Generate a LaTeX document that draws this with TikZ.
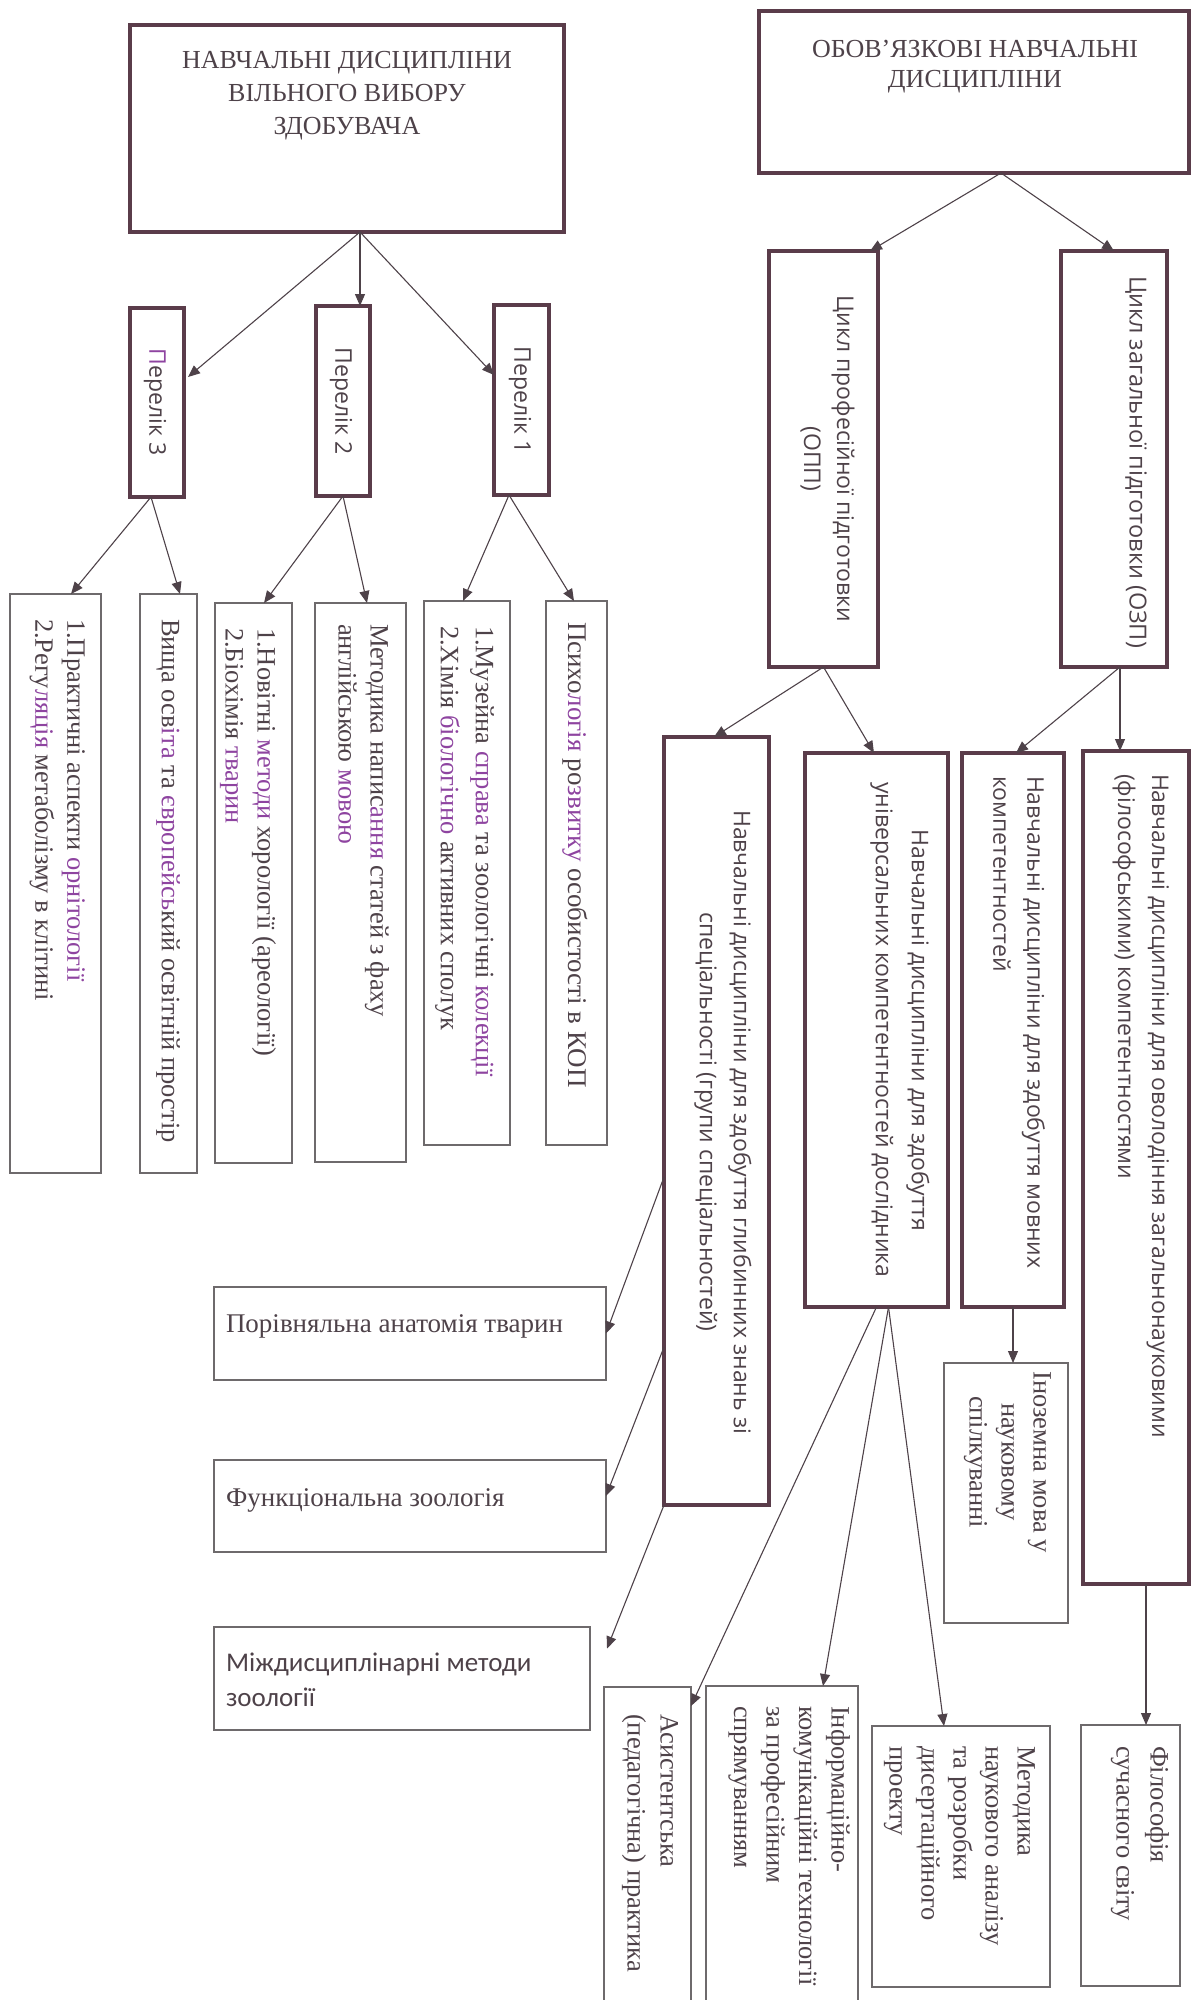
\documentclass[tikz,border=0pt]{standalone}
\usepackage{fontspec}
\setmainfont{Liberation Serif}
\newfontfamily\sansf{Open Sans}
\newfontfamily\calf{Carlito}
\usetikzlibrary{arrows.meta}
\definecolor{framec}{HTML}{5A3C4A}
\definecolor{thinc}{HTML}{6E6A6C}
\definecolor{inkc}{HTML}{4E4249}
\definecolor{lilac}{HTML}{8E44A0}
\newcommand{\purp}[1]{\textcolor{lilac}{#1}}

\begin{document}
\begin{tikzpicture}[x=1pt,y=-1pt]
\tikzstyle{every node}+=[inner sep=0pt,outer sep=0pt,text=inkc]
\tikzstyle{heavy}=[draw=framec,line width=3.5pt]
\tikzstyle{light}=[draw=thinc,line width=1.4pt]
\tikzstyle{link}=[draw=inkc,line width=1.1pt,-{Triangle[length=12pt,width=10pt]}]
\tikzstyle{txtserif}=[font=\fontsize{26.5}{32}\selectfont]
\tikzstyle{txtsans}=[font=\sansf\fontsize{23}{34}\selectfont]
\tikzstyle{down}=[rotate=-90,anchor=north west,align=left]
\tikzstyle{downc}=[rotate=-90,align=center]
\useasboundingbox (0,0) rectangle (1193,2000);

\node[heavy,minimum width=434pt,minimum height=207pt] (vyb) at (347,128.5) {};
\node[font=\fontsize{26}{33}\selectfont,align=center] (vybt) at (347,96) {НАВЧАЛЬНІ ДИСЦИПЛІНИ\\ВІЛЬНОГО ВИБОРУ\\ЗДОБУВАЧА};
\node[heavy,minimum width=430pt,minimum height=162pt] (obov) at (974,92) {};
\node[font=\fontsize{26}{30}\selectfont,align=center] (obovt) at (975,67) {ОБОВ'ЯЗКОВІ НАВЧАЛЬНІ\\ДИСЦИПЛІНИ};

\node[heavy,minimum width=54pt,minimum height=189pt] (p3) at (157,402.5) {};
\node[txtsans,downc] (p3t) at (155,402) {\purp{П}ерелік 3};
\node[heavy,minimum width=54pt,minimum height=190pt] (p2) at (343,401) {};
\node[txtsans,downc] (p2t) at (341,401) {Перелік 2};
\node[heavy,minimum width=55pt,minimum height=190pt] (p1) at (521.5,400) {};
\node[txtsans,downc] (p1t) at (520,400) {Перелік 1};

\node[light,minimum width=91pt,minimum height=579pt] (c3a) at (55.5,883.5) {};
\node[txtserif,down] (c3at) at (85,619) {1.Практичні аспекти \purp{орнітології}\\2.Регу\purp{ляція} метаболізму в клітині};
\node[light,minimum width=57pt,minimum height=579pt] (c3b) at (168.5,883.5) {};
\node[txtserif,down] (c3bt) at (180,619) {Вища осв\purp{іта} та \purp{європейсь}кий освітній простір};
\node[light,minimum width=77pt,minimum height=560pt] (c2a) at (253.5,883) {};
\node[txtserif,down] (c2at) at (276,628) {1.Новітні \purp{методи} хорології (ареології)\\2.Біохімія \purp{тварин}};
\node[light,minimum width=91pt,minimum height=559pt] (c2b) at (360.5,882.5) {};
\node[txtserif,down] (c2bt) at (389,624) {Методика напис\purp{ання} статей з фаху\\англійською \purp{мовою}};
\node[light,minimum width=86pt,minimum height=544pt] (c1a) at (467,873) {};
\node[txtserif,down,font=\fontsize{26.5}{35}\selectfont] (c1at) at (494,626) {1.Музейна \purp{справа} та зоологічні \purp{колекції}\\2.Хімія \purp{біологічно} активних сполук};
\node[light,minimum width=61pt,minimum height=544pt] (c1b) at (576.5,873) {};
\node[txtserif,down,font=\fontsize{27}{32}\selectfont] (c1bt) at (588,622) {Психо\purp{логія} ро\purp{звитку} особистості в КОП};

\draw[link] ([xshift=13pt]vyb.south) -- ([xshift=4pt,yshift=-69pt]p3.north east);
\draw[link] ([xshift=13pt]vyb.south) -- ([xshift=17pt]p2.north);
\draw[link] ([xshift=13pt]vyb.south) -- ([yshift=-70pt]p1.north west);
\draw[link] ([xshift=-6pt]p3.south) -- ([xshift=15.5pt]c3a.north);
\draw[link] ([xshift=-6pt]p3.south) -- ([xshift=11.5pt]c3b.north);
\draw[link] (p2.south) -- ([xshift=10.5pt]c2a.north);
\draw[link] (p2.south) -- ([xshift=6.5pt]c2b.north);
\draw[link] ([xshift=-12.5pt]p1.south) -- ([xshift=-4pt]c1a.north);
\draw[link] ([xshift=-12.5pt]p1.south) -- ([xshift=-2.5pt]c1b.north);

\node[heavy,minimum width=109pt,minimum height=416pt] (opp) at (823.5,459) {};
\node[txtsans,downc,font=\sansf\fontsize{23}{33}\selectfont] (oppt) at (827.5,459) {Цикл професійної підготовки\\(ОПП)};
\node[heavy,minimum width=106pt,minimum height=416pt] (ozp) at (1114,459) {};
\node[txtsans,downc,font=\sansf\fontsize{23.5}{34}\selectfont] (ozpt) at (1136,462) {Цикл загальної підготовки (ОЗП)};

\draw[link] ([xshift=27pt]obov.south) -- ([xshift=46.5pt]opp.north);
\draw[link] ([xshift=27pt]obov.south) -- (ozp.north);

\node[heavy,minimum width=105pt,minimum height=768pt] (deep) at (716.5,1121) {};
\node[txtsans,downc] (deept) at (723,1122) {Навчальні дисципліни для здобуття глибинних знань зі\\спеціальності (групи спеціальностей)};
\node[heavy,minimum width=143pt,minimum height=554pt] (univ) at (876.5,1030) {};
\node[txtsans,downc,font=\sansf\fontsize{23}{36}\selectfont] (univt) at (900,1030) {Навчальні дисципліни для здобуття\\універсальних компетентностей дослідника};
\node[heavy,minimum width=102pt,minimum height=554pt] (movn) at (1013,1030) {};
\node[txtsans,down] (movnt) at (1045,776) {Навчальні дисципліни для здобуття мовних\\компетентностей};
\node[heavy,minimum width=106pt,minimum height=833pt] (ovol) at (1136,1167.5) {};
\node[txtsans,down] (ovolt) at (1169,774) {Навчальні дисципліни для оволодіння загальнонауковими\\(філософськими) компетентностями};

\draw[link] (opp.south) -- ([xshift=-2.5pt]deep.north);
\draw[link] (opp.south) -- ([xshift=-2.5pt]univ.north);
\draw[link] ([xshift=6pt]ozp.south) -- ([xshift=3pt]movn.north);
\draw[link] ([xshift=6pt]ozp.south) -- ([xshift=-16pt]ovol.north);

\node[light,minimum width=124pt,minimum height=260pt] (inoz) at (1006,1493) {};
\node[txtserif,downc,font=\fontsize{26.5}{32}\selectfont] (inozt) at (1007.5,1462) {Іноземна мова у\\науковому\\спілкуванні};
\node[light,minimum width=99pt,minimum height=261pt] (filos) at (1130.5,1855.5) {};
\node[txtserif,down,font=\fontsize{26.5}{34}\selectfont] (filost) at (1169,1746) {Філософія\\сучасного світу};
\node[light,minimum width=178pt,minimum height=261pt] (metod) at (961,1856.5) {};
\node[txtserif,down] (metodt) at (1035,1746) {Методика\\наукового аналізу\\та розробки\\дисертаційного\\проекту};
\node[light,minimum width=152pt,minimum height=330pt] (ikt) at (782,1851) {};
\node[txtserif,down,font=\fontsize{26.5}{32.5}\selectfont] (iktt) at (850,1706) {Інформаційно-\\комунікаційні технології\\за професійним\\спрямуванням};
\node[light,minimum width=87pt,minimum height=330pt] (asyst) at (647.5,1852) {};
\node[txtserif,down,font=\fontsize{26.5}{33}\selectfont] (asystt) at (678,1714) {Асистентська\\(педагогічна) практика};

\coordinate (ovolfoot) at ([xshift=10pt]ovol.south);
\draw[link] (movn.south) -- (movn.south |- inoz.north);
\draw[link] (ovolfoot) -- (ovolfoot |- filos.north);
\draw[link] ([xshift=12pt]univ.south) -- ([xshift=-17pt]metod.north);
\draw[link] ([xshift=12pt]univ.south) -- ([xshift=41pt]ikt.north);
\draw[link] (univ.south) -- ([yshift=-19pt]asyst.north east);

\node[light,minimum width=392pt,minimum height=93pt] (porivn) at (410,1333.5) {};
\node[font=\fontsize{27}{32}\selectfont,anchor=west] (porivnt) at (226,1326) {Порівняльна анатомія тварин};
\node[light,minimum width=392pt,minimum height=92pt] (funkc) at (410,1506) {};
\node[font=\fontsize{27}{32}\selectfont,anchor=west] (funkct) at (226,1500) {Функціональна зоологія};
\node[light,minimum width=376pt,minimum height=103pt] (mizhd) at (402,1678.5) {};
\node[font=\calf\fontsize{27}{35}\selectfont,anchor=north west,align=left] (mizhdt) at (226,1653) {Міждисциплінарні методи\\зоології};

\draw[link] ([yshift=-56pt]deep.west) -- (porivn.east);
\draw[link] ([yshift=-226pt]deep.west) -- ([yshift=10pt]funkc.east);
\draw[link] (deep.south west) -- ([xshift=17pt,yshift=30pt]mizhd.east);
\end{tikzpicture}
\end{document}
